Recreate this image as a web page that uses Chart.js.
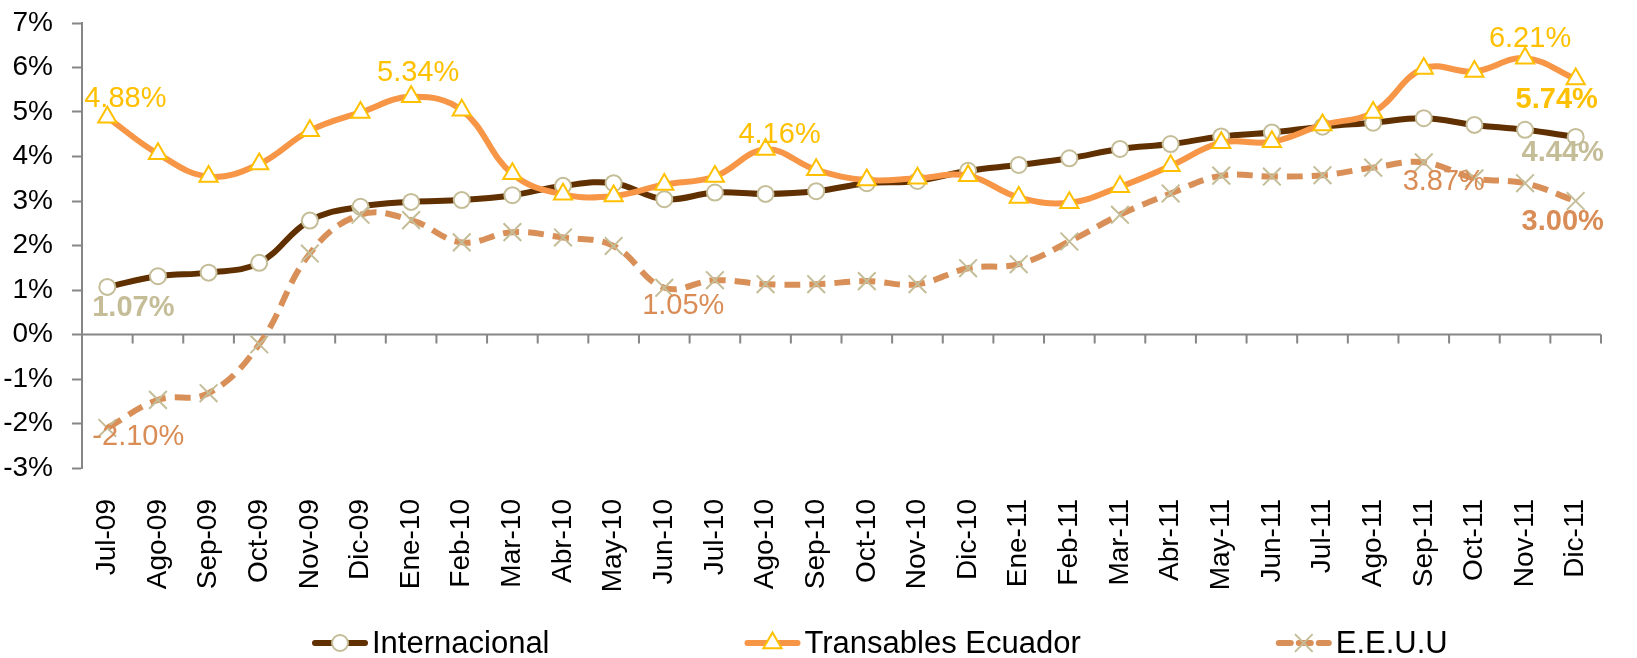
<!DOCTYPE html>
<html>
<head>
<meta charset="utf-8">
<script src="https://cdn.jsdelivr.net/npm/chart.js"></script>
<style>
  html, body { margin: 0; padding: 0; background: #ffffff; }
  #wrap { width: 1637px; height: 658px; }
</style>
</head>
<body>
<div id="wrap"><canvas id="grafico" width="1637" height="658"></canvas></div>
<script>
// meses (eje x)
const meses = ["Jul-09", "Ago-09", "Sep-09", "Oct-09", "Nov-09", "Dic-09", "Ene-10", "Feb-10", "Mar-10", "Abr-10",
  "May-10", "Jun-10", "Jul-10", "Ago-10", "Sep-10", "Oct-10", "Nov-10", "Dic-10", "Ene-11", "Feb-11",
  "Mar-11", "Abr-11", "May-11", "Jun-11", "Jul-11", "Ago-11", "Sep-11", "Oct-11", "Nov-11", "Dic-11"];

// inflación en %
const internacional = [1.07, 1.31, 1.39, 1.61, 2.56, 2.87, 2.98, 3.02, 3.13, 3.34,
  3.40, 3.04, 3.19, 3.16, 3.22, 3.40, 3.45, 3.68, 3.81, 3.96,
  4.17, 4.28, 4.45, 4.54, 4.67, 4.76, 4.86, 4.71, 4.60, 4.44];
const transables = [4.88, 4.06, 3.55, 3.83, 4.58, 4.99, 5.34, 5.04, 3.61, 3.15,
  3.11, 3.37, 3.55, 4.16, 3.70, 3.47, 3.51, 3.57, 3.08, 2.96,
  3.32, 3.79, 4.31, 4.33, 4.71, 4.99, 5.98, 5.91, 6.21, 5.74];
const eeuu = [-2.10, -1.47, -1.32, -0.22, 1.82, 2.69, 2.57, 2.07, 2.30, 2.18,
  1.99, 1.05, 1.22, 1.13, 1.13, 1.20, 1.13, 1.49, 1.58, 2.09,
  2.69, 3.17, 3.57, 3.55, 3.58, 3.75, 3.87, 3.51, 3.40, 3.00];

// eje y
const yMin = -3;
const yMax = 7;
const yPaso = 1;

// etiquetas de datos: serie, punto y desplazamiento
const etiquetas = [
  { serie: 1, i: 0, dx: 18, dy: -18, negrita: false },
  { serie: 1, i: 6, dx: 7, dy: -24, negrita: false },
  { serie: 1, i: 13, dx: 14, dy: -14, negrita: false },
  { serie: 1, i: 28, dx: 5, dy: -19, negrita: false },
  { serie: 1, i: 29, dx: -19, dy: 21, negrita: true },
  { serie: 0, i: 0, dx: 26, dy: 21, negrita: true },
  { serie: 0, i: 29, dx: -13, dy: 16, negrita: true },
  { serie: 2, i: 0, dx: 31, dy: 9, negrita: false },
  { serie: 2, i: 11, dx: 19, dy: 18, negrita: false },
  { serie: 2, i: 26, dx: 20, dy: 20, negrita: false },
  { serie: 2, i: 29, dx: -13, dy: 21, negrita: true }
];
const coloresEtiqueta = ["#C4BD97", "#FFC000", "#D98C55"];

const GRIS = "#868686";
const FUENTE = "'Liberation Sans', Arial, sans-serif";

function dibujarMarcador(ctx, tipo, x, y, r, relleno, borde, grosor) {
  ctx.save();
  ctx.setLineDash([]);
  ctx.lineWidth = grosor;
  ctx.strokeStyle = borde;
  ctx.fillStyle = relleno;
  ctx.beginPath();
  if (tipo === "circle") {
    ctx.arc(x, y, r, 0, Math.PI * 2);
    ctx.fill();
    ctx.stroke();
  } else if (tipo === "triangle") {
    for (let k = 0; k < 3; k++) {
      const a = -Math.PI / 2 + k * 2 * Math.PI / 3;
      const px = x + Math.cos(a) * r, py = y + Math.sin(a) * r;
      if (k === 0) ctx.moveTo(px, py); else ctx.lineTo(px, py);
    }
    ctx.closePath();
    ctx.fill();
    ctx.stroke();
  } else {
    const d = r * Math.SQRT1_2;
    ctx.moveTo(x - d, y - d); ctx.lineTo(x + d, y + d);
    ctx.moveTo(x + d, y - d); ctx.lineTo(x - d, y + d);
    ctx.stroke();
  }
  ctx.restore();
}

// línea del 0% con marcas entre categorías
const ejeCero = {
  id: "ejeCero",
  beforeDatasetsDraw(chart) {
    const { ctx, chartArea } = chart;
    const x = chart.scales.x, y = chart.scales.y;
    const y0 = y.getPixelForValue(0);
    const paso = x.getPixelForValue(1) - x.getPixelForValue(0);
    ctx.save();
    ctx.strokeStyle = GRIS;
    ctx.lineWidth = 2;
    ctx.beginPath();
    ctx.moveTo(chartArea.left, y0);
    ctx.lineTo(chartArea.right, y0);
    for (let i = 1; i <= meses.length; i++) {
      const bx = x.getPixelForValue(i) - paso / 2;
      ctx.moveTo(bx, y0);
      ctx.lineTo(bx, y0 + 9);
    }
    ctx.stroke();
    ctx.restore();
  }
};

// etiquetas de valores
const etiquetasDatos = {
  id: "etiquetasDatos",
  afterDatasetsDraw(chart) {
    const { ctx } = chart;
    ctx.save();
    ctx.textAlign = "center";
    ctx.textBaseline = "middle";
    etiquetas.forEach(e => {
      const pt = chart.getDatasetMeta(e.serie).data[e.i];
      const valor = chart.data.datasets[e.serie].data[e.i];
      ctx.font = (e.negrita ? "bold " : "") + "29px " + FUENTE;
      ctx.fillStyle = coloresEtiqueta[e.serie];
      ctx.fillText(valor.toFixed(2) + "%", pt.x + e.dx, pt.y + e.dy);
    });
    ctx.restore();
  }
};

// leyenda inferior
const leyenda = {
  id: "leyenda",
  afterDraw(chart) {
    const { ctx, chartArea } = chart;
    const yc = chart.height - 15;
    let x = chartArea.left + 230;
    ctx.save();
    ctx.font = "31px " + FUENTE;
    ctx.textBaseline = "middle";
    ctx.textAlign = "left";
    chart.data.datasets.forEach(ds => {
      ctx.save();
      ctx.strokeStyle = ds.borderColor;
      ctx.lineWidth = ds.borderWidth;
      ctx.lineCap = "round";
      ctx.setLineDash(ds.borderDash ? [12, 8] : []);
      ctx.beginPath();
      ctx.moveTo(x + 3, yc);
      ctx.lineTo(x + 53, yc);
      ctx.stroke();
      ctx.restore();
      dibujarMarcador(ctx, ds.pointStyle, x + 28, yc, ds.pointRadius, ds.pointBackgroundColor || "#fff",
        ds.pointBorderColor, ds.pointBorderWidth);
      ctx.fillStyle = "#000";
      ctx.fillText(ds.label, x + 60, yc + 1);
      x += 60 + ctx.measureText(ds.label).width + 195;
    });
    ctx.restore();
  }
};

const ctx = document.getElementById("grafico").getContext("2d");
new Chart(ctx, {
  type: "line",
  data: {
    labels: meses,
    datasets: [
      {
        label: "Internacional",
        data: internacional,
        borderColor: "#603000",
        borderWidth: 6,
        tension: 0.4,
        pointStyle: "circle",
        pointRadius: 8,
        pointBackgroundColor: "#ffffff",
        pointBorderColor: "#C4BD97",
        pointBorderWidth: 2,
        order: 3
      },
      {
        label: "Transables Ecuador",
        data: transables,
        borderColor: "#F79646",
        borderWidth: 6,
        tension: 0.4,
        pointStyle: "triangle",
        pointRadius: 10.5,
        pointBackgroundColor: "#ffffff",
        pointBorderColor: "#FFC000",
        pointBorderWidth: 2,
        order: 2
      },
      {
        label: "E.E.U.U",
        data: eeuu,
        borderColor: "#D99058",
        borderWidth: 6,
        borderDash: [16, 9],
        tension: 0.4,
        pointStyle: "crossRot",
        pointRadius: 12.5,
        pointBackgroundColor: "#ffffff",
        pointBorderColor: "#C4BD97",
        pointBorderWidth: 2,
        order: 1
      }
    ]
  },
  options: {
    responsive: false,
    devicePixelRatio: 1,
    animation: false,
    layout: { padding: { top: 23, right: 36, bottom: 50, left: 0 } },
    plugins: {
      legend: { display: false },
      tooltip: { enabled: false }
    },
    scales: {
      x: {
        offset: true,
        grid: { display: false },
        border: { display: false },
        ticks: {
          autoSkip: false,
          minRotation: 90,
          maxRotation: 90,
          padding: 23,
          color: "#000",
          font: { family: FUENTE, size: 28 }
        },
        afterFit(scale) { scale.height = 140; }
      },
      y: {
        min: yMin,
        max: yMax,
        grid: { drawOnChartArea: false, drawTicks: true, tickLength: 10, tickColor: GRIS, tickWidth: 2 },
        border: { color: GRIS, width: 2 },
        ticks: {
          stepSize: yPaso,
          padding: 19,
          color: "#000",
          font: { family: FUENTE, size: 28 },
          callback: v => v + "%"
        },
        afterFit(scale) {
          scale.width = 82;
          scale.paddingTop = 0;
          scale.paddingBottom = 0;
        }
      }
    }
  },
  plugins: [ejeCero, etiquetasDatos, leyenda]
});
</script>
</body>
</html>
